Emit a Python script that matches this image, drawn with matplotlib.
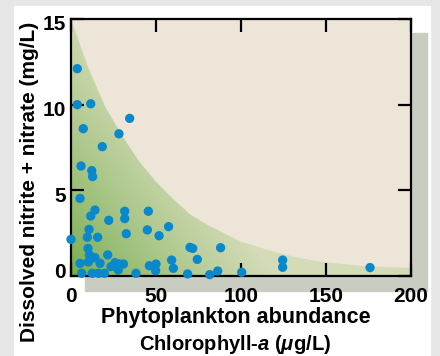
import numpy as np
import matplotlib
matplotlib.use("Agg")
import matplotlib.pyplot as plt
from matplotlib.patches import Rectangle, Polygon
from matplotlib.transforms import ScaledTranslation

plt.rcParams["font.family"] = ["Liberation Sans", "DejaVu Sans"]
plt.rcParams["font.weight"] = "bold"
plt.rcParams["mathtext.fontset"] = "custom"
plt.rcParams["mathtext.it"] = "Liberation Sans:italic:bold"
plt.rcParams["mathtext.rm"] = "Liberation Sans:bold"

# Datos: clorofila-a (ug/L) y nitrito + nitrato (mg/L)
clorofila = [3.7, 3.7, 11.6, 34.5, 7.2, 28.2, 18.4, 5.9, 12.2, 12.7,
             5.3, 14.1, 11.6, 22.2, 31.6, 31.6, 45.5, 57.4, 44.9, 51.8,
             32.5, 10.6, 9.6, 15.7, 0.0, 10.0, 10.8, 21.6, 14.1, 5.3,
             10.2, 17.1, 23.5, 25.9, 28.4, 30.8, 27.8, 6.3, 12.5, 16.1,
             19.6, 38.2, 46.1, 50.0, 49.8, 59.2, 60.2, 70.0, 71.6, 88.0,
             74.3, 68.6, 81.6, 86.3, 100.4, 124.5, 124.5, 175.9]
nitrato = [12.1, 10.0, 10.05, 9.2, 8.6, 8.3, 7.55, 6.42, 6.15, 5.8,
           4.53, 3.85, 3.5, 3.25, 3.78, 3.35, 3.78, 2.88, 2.69, 2.35,
           2.47, 2.72, 2.26, 2.26, 2.14, 1.61, 1.23, 1.23, 1.07, 0.74,
           0.82, 0.74, 0.55, 0.78, 0.70, 0.70, 0.35, 0.16, 0.16, 0.16,
           0.16, 0.16, 0.60, 0.70, 0.31, 0.93, 0.45, 1.67, 1.61, 1.65,
           0.97, 0.12, 0.08, 0.29, 0.22, 0.93, 0.51, 0.49]

# Borde de la zona verde
borde_x = [0, 10, 20, 30, 40, 50, 60, 70, 80, 90, 100, 110, 120, 130,
           140, 150, 160, 170, 180, 190, 200]
borde_y = [15, 12.2, 9.9, 8.2, 6.7, 5.5, 4.5, 3.6, 3.0, 2.5, 2.0, 1.7,
           1.4, 1.15, 0.95, 0.8, 0.7, 0.6, 0.55, 0.5, 0.47]

W, H = 440, 356
fig = plt.figure(figsize=(W / 100, H / 100), dpi=100, facecolor="#e6e6e6")

# panel blanco y sombra
fig.patches.append(Rectangle((14 / W, 0), (430 - 14) / W, (H - 6) / H,
                             transform=fig.transFigure, color="white", zorder=-2))
fig.patches.append(Rectangle((85 / W, (H - 291) / H), (427 - 85) / W, (291 - 33) / H,
                             transform=fig.transFigure, color="#c9ccc1", zorder=-1))

ax = fig.add_axes([71 / W, (H - 276) / H, 340 / W, 257 / H])
ax.set_zorder(2)
ax.set_facecolor("#ede5d8")
ax.set_xlim(0, 200)
ax.set_ylim(0, 15)

# degradado verde
gx, gy = np.meshgrid(np.linspace(0, 200, 300), np.linspace(0, 15, 300))
t = np.clip(gx / 120 + gy / 16, 0, 1) ** 0.8
c0 = np.array([0.45, 0.67, 0.29])
c1 = np.array([0.83, 0.86, 0.72])
img = c0 + (c1 - c0) * t[..., None]
im = ax.imshow(img, extent=[0, 200, 0, 15], origin="lower", aspect="auto", zorder=1)
poli = Polygon(list(zip(borde_x, borde_y)) + [(200, 0), (0, 0)], closed=True,
               transform=ax.transData, facecolor="none", edgecolor="none")
ax.add_patch(poli)
im.set_clip_path(poli)

ax.scatter(clorofila, nitrato, s=45, color="#0a88cc", zorder=5, clip_on=False,
           edgecolors="none")

ax.set_xticks([0, 50, 100, 150, 200])
ax.set_yticks([0, 5, 10, 15])
ax.tick_params(direction="in", length=9.5, width=1.6, top=True, right=True,
               labelsize=15, colors="black")
ax.tick_params(axis="x", pad=8)
ax.tick_params(axis="y", pad=3.5)
for s in ax.spines.values():
    s.set_linewidth(1.6)
    s.set_zorder(4)

for lab in ax.get_yticklabels():
    dy = 5 if lab.get_text() == "0" else -4
    lab.set_transform(lab.get_transform() + ScaledTranslation(0, dy / 100, fig.dpi_scale_trans))

fig.text(30 / W, (H - 181.5) / H, "Dissolved nitrite + nitrate (mg/L)", rotation=90,
         ha="center", va="center", fontsize=15, fontweight="bold")
fig.text(236 / W, (H - 318) / H, "Phytoplankton abundance",
         ha="center", va="center", fontsize=15.5, fontweight="bold")
fig.text(235 / W, (H - 345) / H, r"Chlorophyll-$a$ ($\mu$g/L)",
         ha="center", va="center", fontsize=14.5, fontweight="bold")

fig.savefig("out.png", dpi=100, facecolor=fig.get_facecolor())
